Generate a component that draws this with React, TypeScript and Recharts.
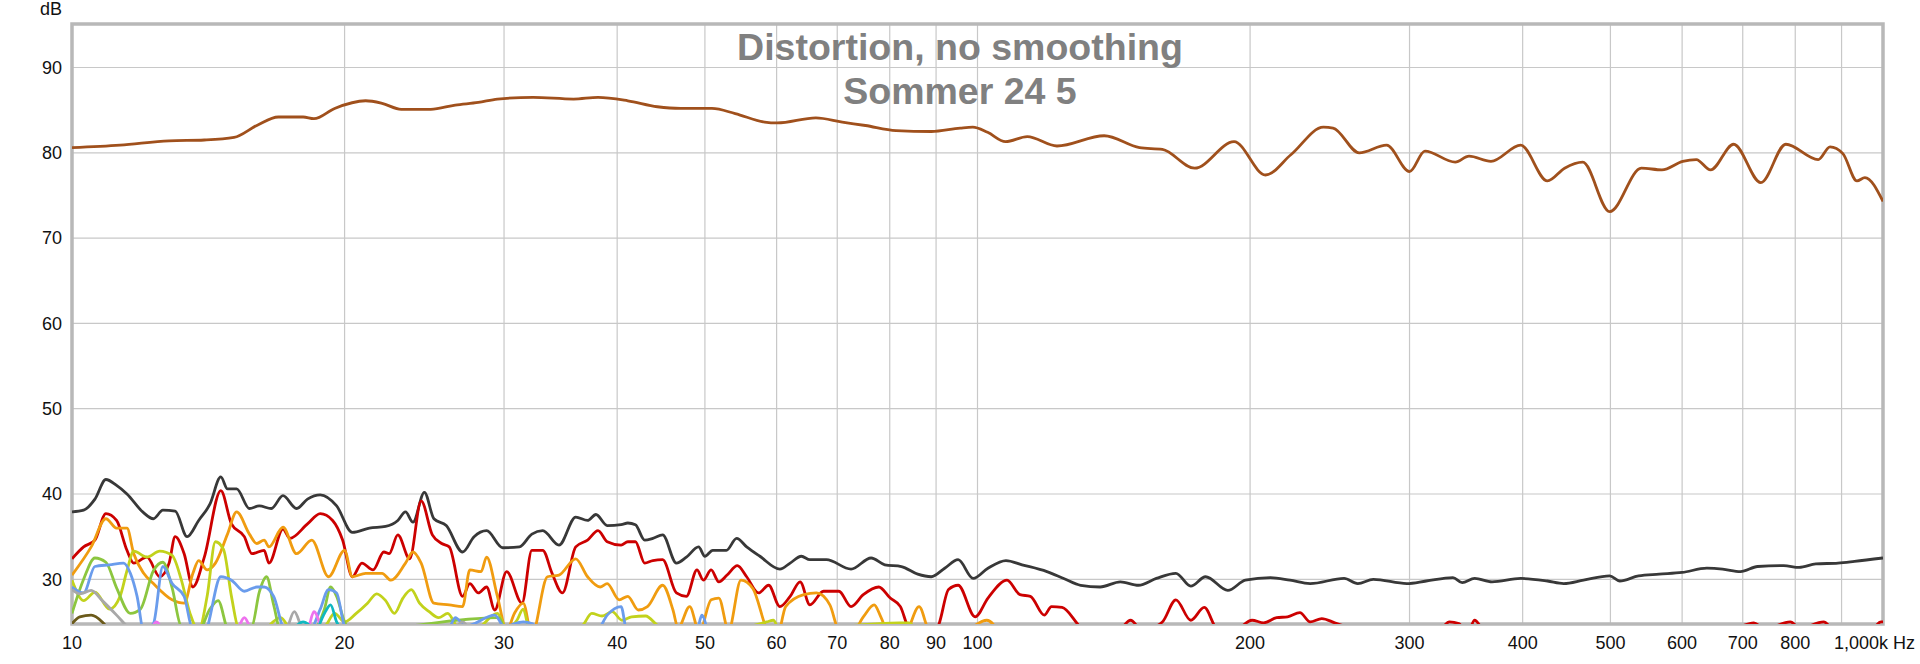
import React from "react";
import {
  LineChart,
  Line,
  XAxis,
  YAxis,
  CartesianGrid,
  ReferenceArea,
} from "recharts";

// frequency ticks and level ticks
const xTicks = [10, 20, 30, 40, 50, 60, 70, 80, 90, 100, 200, 300, 400, 500, 600, 700, 800, 900, 1000];
const yTicks = [30, 40, 50, 60, 70, 80, 90];
const yMin = 24.76;
const yMax = 95.1;

// fundamental
const fundF = [10, 11.3, 12.8, 14, 15.1, 16, 16.9, 18, 18.5, 19.5, 21.1, 22, 23.1, 24.9, 26.5, 28.1, 29.5, 32.3, 35.8, 38.1, 41.1, 44.3, 47, 50.9, 54, 58.2, 60.1, 66.3, 70.9, 75.2, 81.3, 88.9, 95.7, 98.8, 102.6, 107.4, 113.5, 122.4, 138, 151, 160, 173.7, 192, 208, 222, 241, 247, 264, 283, 300, 312, 337, 349, 369, 398, 426, 445, 466, 499, 541, 570, 601, 622, 645, 684, 733, 781, 848, 874, 903, 936, 955, 1000];
const fundV = [80.6, 80.9, 81.4, 81.5, 81.8, 83.2, 84.2, 84.2, 84.0, 85.2, 86.1, 85.8, 85.1, 85.1, 85.6, 85.9, 86.3, 86.5, 86.3, 86.5, 86.1, 85.4, 85.2, 85.2, 84.6, 83.6, 83.5, 84.1, 83.6, 83.2, 82.6, 82.5, 82.9, 83.0, 82.4, 81.3, 81.9, 80.8, 82.0, 80.6, 80.4, 78.2, 81.3, 77.4, 79.8, 83.0, 82.9, 80.0, 80.9, 77.8, 80.2, 78.9, 79.6, 79.0, 80.9, 76.7, 78.2, 78.9, 73.1, 78.2, 78.0, 79.0, 79.2, 78.0, 81.0, 76.5, 81.0, 79.2, 80.7, 79.9, 76.7, 77.1, 74.3];

// total distortion
const thdF = [10, 10.3, 10.6, 10.9, 11.2, 11.5, 11.97, 12.3, 12.6, 13, 13.4, 13.8, 14.2, 14.6, 14.85, 15.2, 15.7, 16.1, 16.6, 17.1, 17.7, 18.2, 18.8, 19.6, 20.4, 21.3, 22.2, 22.9, 23.35, 23.8, 24.5, 25.1, 25.9, 27, 27.8, 28.7, 29.9, 31.2, 32.2, 33.1, 34.5, 36, 37.1, 37.9, 39, 40.4, 41.1, 41.9, 42.9, 43.8, 44.9, 46.5, 47.7, 49.2, 50, 51, 52.8, 54.2, 55.6, 57.5, 60.5, 62.1, 63.9, 65.3, 68.1, 72.5, 76.3, 79, 82.4, 85.9, 88.9, 92, 95.2, 98.9, 102.7, 107.5, 112, 119.3, 124.5, 130, 136.6, 143.8, 150.6, 157.6, 165.6, 172, 178.6, 189, 197.6, 210.6, 221.4, 233, 254, 263, 273.6, 298, 313, 335, 343, 354, 370, 398, 426, 444, 467, 499, 512, 537, 566, 600, 639, 665, 696, 727, 777, 808, 843, 892, 930, 1000];
const thdV = [37.9, 38.1, 39.4, 41.7, 41.0, 40.0, 37.9, 37.1, 38.1, 38.0, 35.0, 36.9, 38.8, 42.0, 40.6, 40.6, 38.3, 38.6, 38.3, 39.8, 38.3, 39.4, 39.9, 38.6, 35.5, 36.0, 36.2, 36.9, 37.9, 36.7, 40.2, 37.1, 36.3, 33.2, 35.0, 35.7, 33.7, 33.8, 35.3, 35.7, 34.0, 37.3, 36.9, 37.6, 36.3, 36.4, 36.6, 36.4, 34.6, 34.8, 35.2, 31.9, 32.6, 33.8, 32.7, 33.4, 33.4, 34.8, 33.8, 32.7, 31.2, 31.9, 32.7, 32.3, 32.3, 31.2, 32.5, 31.7, 31.5, 30.6, 30.3, 31.3, 32.3, 30.1, 31.3, 32.2, 31.7, 30.9, 30.1, 29.3, 29.1, 29.7, 29.3, 30.1, 30.7, 29.2, 30.3, 28.7, 29.9, 30.2, 29.9, 29.5, 30.1, 29.5, 30.0, 29.5, 29.8, 30.2, 29.6, 30.1, 29.7, 30.1, 29.8, 29.5, 29.9, 30.4, 29.8, 30.4, 30.6, 30.8, 31.3, 31.2, 30.9, 31.5, 31.6, 31.4, 31.8, 31.9, 32.1, 32.5];

// 2nd harmonic
const h2F = [10, 10.3, 10.6, 10.9, 11.2, 11.5, 11.7, 12.1, 12.5, 12.8, 13, 13.3, 13.6, 14, 14.6, 15, 15.5, 15.8, 16.3, 16.5, 17.1, 17.4, 18.2, 18.8, 19.4, 19.9, 20.4, 20.9, 21.5, 22.1, 22.4, 22.9, 23.6, 24.3, 25, 25.6, 26.1, 27, 27.5, 28.1, 28.7, 29.3, 30.2, 31.4, 32.2, 33.1, 33.9, 34.8, 36, 37.1, 38.1, 39, 40.4, 41.1, 41.9, 42.9, 43.8, 44.9, 46.5, 47.7, 49, 49.8, 50.8, 51.8, 52.9, 54.3, 55.6, 57.3, 58.8, 60.5, 62.1, 63.7, 65.3, 67.6, 70.3, 72.5, 74.8, 77.8, 80.1, 82.2, 83.7, 86, 89, 90.7, 92.9, 95.2, 99.4, 102.7, 107.8, 111.4, 114.4, 118.5, 120.7, 124, 128.9, 133, 142, 147.6, 152, 160, 165.6, 172, 178, 184, 192, 201, 207, 214, 220, 227, 233, 240, 248, 257, 265, 300, 325, 332, 340, 348, 354, 362, 380, 600, 680, 720, 740, 790, 810, 860, 880, 960, 995, 1000];
const h2V = [32.4, 33.8, 34.6, 37.7, 36.9, 33.4, 31.9, 32.6, 30.3, 31.9, 35.0, 33.0, 29.1, 32.6, 40.4, 36.5, 35.0, 33.0, 33.4, 31.9, 35.9, 34.8, 36.5, 37.7, 36.9, 34.6, 30.3, 31.9, 31.1, 33.2, 33.0, 35.2, 32.4, 39.2, 35.2, 34.2, 33.8, 28.0, 29.5, 28.4, 29.1, 26.4, 30.9, 27.2, 33.4, 33.4, 30.7, 28.4, 33.8, 34.6, 35.7, 34.4, 34.0, 34.4, 34.4, 31.9, 32.2, 32.3, 28.4, 28.0, 31.1, 29.9, 31.1, 29.7, 30.5, 31.6, 30.3, 28.4, 29.3, 26.8, 28.0, 29.7, 27.0, 28.6, 28.6, 26.8, 28.2, 29.1, 27.8, 26.8, 24.5, 23.0, 23.2, 24.8, 28.8, 29.3, 25.6, 27.8, 29.9, 28.2, 28.0, 25.8, 26.8, 26.7, 24.8, 23.0, 23.5, 25.2, 24.0, 25.0, 27.6, 25.2, 26.7, 24.2, 24.0, 25.2, 24.9, 25.5, 25.6, 26.1, 25.0, 25.4, 24.9, 24.3, 23.5, 23.0, 24.2, 25.0, 24.8, 23.8, 25.2, 24.0, 23.0, 23.0, 24.0, 24.9, 24.2, 25.0, 24.3, 25.0, 24.2, 23.5, 25.0, 25.0];

// 3rd harmonic
const h3F = [10, 10.5, 10.9, 11.2, 11.5, 11.7, 12, 12.3, 12.9, 13.3, 13.6, 13.8, 14.1, 14.4, 14.85, 15.2, 15.7, 16, 16.3, 16.5, 17.1, 17.7, 18.4, 19.2, 20, 20.4, 21.1, 22, 22.5, 23.35, 23.8, 24.3, 25.1, 26.1, 27, 27.5, 28.3, 28.7, 29.5, 30.2, 30.8, 31.5, 32.2, 33.5, 34.5, 36, 37.1, 38.3, 39, 40.2, 41.1, 42.2, 43.2, 44.9, 46.1, 46.7, 48.1, 49.3, 50.8, 51.8, 53.1, 54.8, 56.5, 58.6, 60, 61.4, 64.3, 66.4, 68.7, 70.3, 72.5, 74.8, 76.9, 78.2, 79.5, 83, 86.2, 88.5, 95, 102.4, 106];
const h3V = [30.5, 33.8, 37.1, 36.0, 36.0, 33.0, 30.7, 29.5, 27.6, 27.2, 30.7, 32.2, 31.1, 31.9, 35.3, 37.9, 35.3, 34.2, 34.6, 33.8, 36.1, 33.0, 34.6, 30.3, 33.4, 30.3, 30.7, 30.7, 29.9, 31.9, 33.2, 31.9, 27.2, 27.0, 26.8, 31.1, 30.9, 32.6, 28.0, 24.0, 26.0, 27.2, 23.5, 30.3, 30.5, 32.4, 30.3, 29.1, 29.5, 27.6, 28.0, 26.4, 26.8, 29.3, 26.4, 24.3, 26.8, 23.8, 27.6, 27.8, 24.0, 29.9, 28.9, 24.0, 23.0, 26.8, 28.2, 28.4, 27.0, 24.0, 23.5, 25.6, 27.0, 25.6, 24.0, 23.5, 26.8, 24.0, 23.5, 25.2, 23.5];

// 4th harmonic
const h4F = [10, 10.3, 10.6, 11, 11.3, 11.5, 11.7, 12.1, 12.5, 12.9, 13.2, 13.5, 13.8, 14.1, 14.4, 14.7, 15, 15.3, 16, 17, 17.5, 19, 19.5, 20, 20.6, 21.2, 21.7, 22.2, 22.7, 23.2, 23.7, 24.2, 24.8, 25.4, 26, 26.6, 27.2, 28, 29.5, 30.2, 31, 31.5, 32, 36.5, 37.5, 38.5, 39.5, 40.5, 41.5, 43, 44.5, 50, 58.5, 59.5, 60.5, 82, 84, 86];
const h4V = [29.9, 27.5, 28.5, 26.5, 28.0, 31.0, 33.3, 32.6, 33.3, 32.8, 30.0, 26.0, 24.0, 28.0, 34.4, 33.5, 28.0, 24.0, 23.5, 25.5, 24.0, 24.5, 26.0, 25.0, 26.0, 27.2, 28.3, 27.5, 26.0, 27.8, 28.8, 27.2, 26.2, 25.5, 26.0, 24.5, 24.0, 24.2, 26.0, 24.2, 25.2, 26.5, 24.2, 24.5, 26.0, 25.7, 26.2, 25.2, 25.6, 25.7, 24.5, 23.5, 25.0, 25.2, 24.0, 24.9, 24.9, 23.5];

// 5th harmonic
const h5F = [10, 10.3, 10.6, 10.9, 11.2, 11.6, 11.9, 12.3, 12.6, 12.9, 13.2, 13.8, 14.2, 14.5, 14.9, 15.8, 16.1, 16.4, 16.7, 17, 18.5, 19, 19.3, 19.6, 20, 20.4, 29.6, 30];
const h5V = [26.0, 30.0, 32.5, 32.0, 29.0, 26.0, 26.5, 31.0, 32.0, 29.0, 24.5, 24.0, 26.5, 27.5, 24.0, 24.5, 28.5, 30.3, 27.0, 24.0, 24.2, 26.5, 29.1, 28.0, 25.0, 24.0, 25.5, 24.0];

// 6th harmonic
const h6F = [10, 10.3, 10.6, 11, 11.4, 11.6, 11.8, 12, 12.3, 12.6, 12.9, 13.3, 13.6, 14, 14.6, 15, 15.5, 16, 16.3, 16.7, 17.2, 18.3, 18.8, 19.2, 19.6, 20, 20.5, 26, 26.5, 27.2, 29.3, 30, 31.5, 32.2, 33.2, 38, 39, 40.4, 41, 49, 49.6, 50.3];
const h6V = [29.1, 28.4, 31.5, 31.7, 31.9, 30.7, 28.0, 24.0, 24.8, 31.5, 29.5, 28.0, 24.0, 23.8, 30.3, 29.9, 28.6, 29.1, 29.1, 28.0, 24.0, 24.0, 26.5, 28.8, 28.4, 24.5, 23.5, 24.0, 25.5, 24.5, 25.8, 24.5, 25.0, 24.8, 23.5, 24.0, 25.8, 26.8, 24.0, 24.0, 25.8, 24.0];

// 7th .. 10th harmonics (only visible at the bottom edge)
const h7F = [10, 10.2, 10.5, 10.8, 11.2, 11.5, 11.8, 17.2, 17.6, 18, 26, 27, 27.5];
const h7V = [28.8, 28.3, 28.7, 27.5, 25.8, 24.5, 23.5, 24.0, 26.2, 24.2, 23.5, 25.0, 24.0];
const h8F = [12.2, 12.4, 12.6, 15.2, 15.5, 15.8, 18.2, 18.5, 18.8];
const h8V = [24.0, 25.0, 24.2, 24.2, 25.5, 24.2, 24.2, 26.2, 24.5];
const h9F = [17.5, 18, 18.6, 19, 19.3, 19.6, 20];
const h9V = [24.0, 25.0, 24.2, 26.0, 27.0, 25.0, 23.8];
const h10F = [10, 10.2, 10.5, 10.8, 11];
const h10V = [24.8, 25.6, 25.8, 25.0, 24.0];

const pts = (fs: number[], vs: number[]) => fs.map((f, i) => ({ f, v: vs[i] }));

const series = [
  { name: "fund", data: pts(fundF, fundV), color: "#a0501c" },
  { name: "thd", data: pts(thdF, thdV), color: "#383838" },
  { name: "h2", data: pts(h2F, h2V), color: "#cc0000" },
  { name: "h3", data: pts(h3F, h3V), color: "#f09c10" },
  { name: "h4", data: pts(h4F, h4V), color: "#c2d21c" },
  { name: "h5", data: pts(h5F, h5V), color: "#8cc63f" },
  { name: "h6", data: pts(h6F, h6V), color: "#6a9cec" },
  { name: "h7", data: pts(h7F, h7V), color: "#a8a8a8" },
  { name: "h8", data: pts(h8F, h8V), color: "#ee72ee" },
  { name: "h9", data: pts(h9F, h9V), color: "#10b8c0" },
  { name: "h10", data: pts(h10F, h10V), color: "#6b5a1a" },
];

const font = '"Liberation Sans", Arial, sans-serif';

function XTick({ x, y, payload }: any) {
  const v = payload.value;
  if (v === 900) return null;
  if (v === 1000) {
    return (
      <text x={x + 32} y={y} dy="0.71em" textAnchor="end" fontSize={18} fill="#111" fontFamily={font}>
        1,000k Hz
      </text>
    );
  }
  return (
    <text x={x} y={y} dy="0.71em" textAnchor="middle" fontSize={18} fill="#111" fontFamily={font}>
      {v}
    </text>
  );
}

const titleStyle: React.CSSProperties = {
  position: "absolute",
  left: 0,
  width: 1920,
  textAlign: "center",
  fontSize: 37.5,
  lineHeight: "38px",
  fontWeight: 700,
  color: "#808080",
};

export default function App() {
  return (
    <div style={{ position: "absolute", left: 0, top: 0, width: 1920, height: 664, background: "#fff", fontFamily: font }}>
      <div style={{ position: "absolute", left: 40, top: 0, fontSize: 18, lineHeight: "18px", color: "#111" }}>dB</div>
      <LineChart width={1920} height={664} margin={{ top: 24, right: 37, left: 0, bottom: 0 }}>
        <CartesianGrid stroke="#c8c8c8" strokeWidth={1.2} />
        <XAxis
          dataKey="f"
          type="number"
          scale="log"
          domain={[10, 1000]}
          allowDataOverflow
          ticks={xTicks}
          tick={<XTick />}
          tickLine={false}
          axisLine={false}
          tickMargin={6}
          height={40}
        />
        <YAxis
          type="number"
          domain={[yMin, yMax]}
          allowDataOverflow
          ticks={yTicks}
          tick={{ fill: "#111", fontSize: 18, fontFamily: font }}
          tickLine={false}
          axisLine={false}
          tickMargin={4}
          width={72}
        />
        {series.map((s) => (
          <Line
            key={s.name}
            data={s.data}
            dataKey="v"
            type="monotone"
            stroke={s.color}
            strokeWidth={2.8}
            dot={false}
            isAnimationActive={false}
          />
        ))}
        <ReferenceArea x1={10} x2={1000} y1={yMin} y2={yMax} fill="none" stroke="#b8b8b8" strokeWidth={3.5} ifOverflow="visible" />
      </LineChart>
      <div style={{ ...titleStyle, top: 28 }}>Distortion, no smoothing</div>
      <div style={{ ...titleStyle, top: 72 }}>Sommer 24 5</div>
    </div>
  );
}
